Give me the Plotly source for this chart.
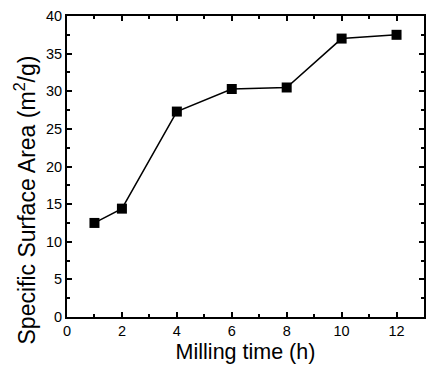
import plotly.graph_objects as go

milling_time = [1, 2, 4, 6, 8, 10, 12]
surface_area = [12.5, 14.4, 27.3, 30.3, 30.5, 37.0, 37.5]

fig = go.Figure()
fig.add_trace(go.Scatter(
    x=milling_time, y=surface_area, mode="lines+markers",
    line=dict(color="black", width=1.5),
    marker=dict(symbol="square", size=10, color="black"),
    showlegend=False,
))

axis_common = dict(
    showline=True, linecolor="black", linewidth=2, mirror="ticks",
    ticks="inside", ticklen=5, tickwidth=1.5, tickcolor="black",
    showgrid=False, zeroline=False, automargin=False,
    ticklabeloverflow="allow",
    tickfont=dict(family="Liberation Sans, Arial", size=14.5, color="black"),
)

fig.update_xaxes(
    range=[0, 13], dtick=2, tick0=0,
    minor=dict(ticks="inside", dtick=1, ticklen=3, tickwidth=1.5, tickcolor="black"),
    title=dict(text="Milling time (h)", font=dict(family="Liberation Sans, Arial", size=21.5, color="black"), standoff=7),
    **axis_common,
)
fig.update_yaxes(
    range=[0, 40], dtick=5, tick0=0,
    minor=dict(ticks="inside", dtick=2.5, ticklen=3, tickwidth=1.5, tickcolor="black"),
    **axis_common,
)

fig.add_annotation(
    text="Specific Surface Area (m<sup>2</sup>/g)",
    xref="paper", yref="paper", x=-0.118, y=0.39,
    xanchor="center", yanchor="middle", textangle=-90, showarrow=False,
    font=dict(family="Liberation Sans, Arial", size=23, color="black"),
)

fig.update_layout(
    width=428, height=356,
    margin=dict(l=59, r=12, t=8, b=47),
    paper_bgcolor="white", plot_bgcolor="white",
)

fig.write_html("out.html")
